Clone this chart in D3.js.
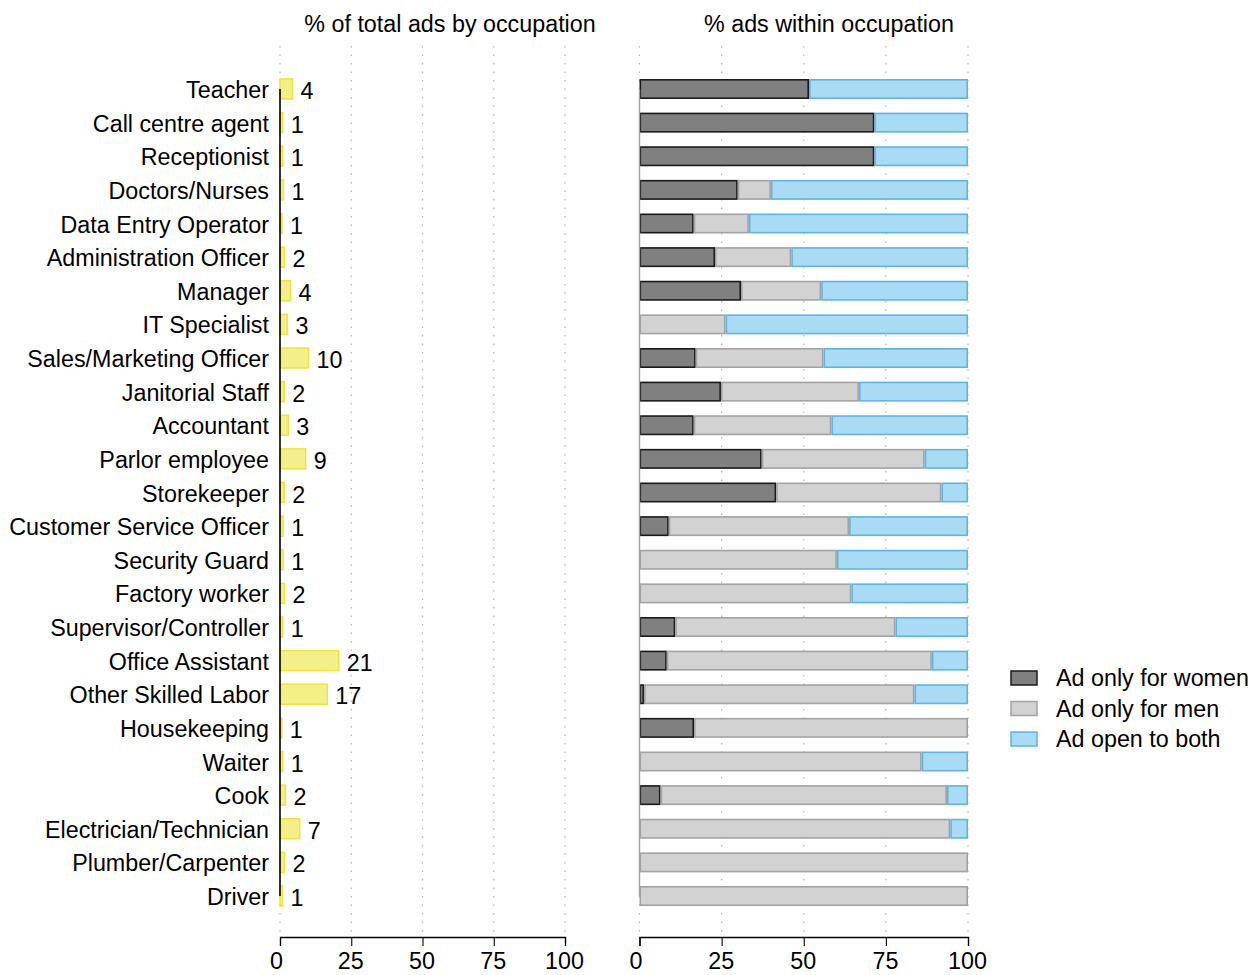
<!DOCTYPE html>
<html>
<head>
<meta charset="utf-8">
<script src="https://cdn.jsdelivr.net/npm/d3@7"></script>
<style>
  html, body { margin: 0; padding: 0; background: #fff; }
  svg text { font-family: "Liberation Sans", Arial, Helvetica, sans-serif; fill: #000; }
</style>
</head>
<body>
<div id="chart"></div>
<script>
const occupations = ["Teacher", "Call centre agent", "Receptionist", "Doctors/Nurses", "Data Entry Operator",
  "Administration Officer", "Manager", "IT Specialist", "Sales/Marketing Officer", "Janitorial Staff",
  "Accountant", "Parlor employee", "Storekeeper", "Customer Service Officer", "Security Guard",
  "Factory worker", "Supervisor/Controller", "Office Assistant", "Other Skilled Labor", "Housekeeping",
  "Waiter", "Cook", "Electrician/Technician", "Plumber/Carpenter", "Driver"];

// % of total ads
const shareTotal = [4.4, 1.0, 1.0, 1.2, 0.7, 1.6, 3.7, 2.6, 10.0, 1.5, 2.9, 9.0, 1.5, 1.1, 1.1,
  1.6, 1.0, 20.6, 16.6, 0.6, 1.0, 1.9, 6.9, 1.6, 0.9];

// % within occupation
const onlyWomen = [51.6, 71.5, 71.5, 29.9, 16.5, 23.0, 30.9, 0, 17.1, 24.8, 16.5, 37.2, 41.6, 8.9, 0,
  0, 10.9, 8.3, 1.4, 16.6, 0, 6.4, 0, 0, 0];
const onlyMen = [0, 0, 0, 10.1, 16.8, 23.2, 24.4, 26.2, 38.9, 42.0, 41.9, 49.6, 50.3, 54.9, 60.1,
  64.5, 67.0, 80.7, 82.3, 83.4, 85.9, 87.2, 94.6, 100, 100];
const openBoth = onlyWomen.map((w, i) => Math.max(0, 100 - w - onlyMen[i]));

const ticks = [0, 25, 50, 75, 100];
const seriesNames = ["Ad only for women", "Ad only for men", "Ad open to both"];

const COL = {
  women: { fill: "#808080", stroke: "#1a1a1a" },
  men: { fill: "#d1d2d1", stroke: "#a3a3a3" },
  both: { fill: "#a9dbf4", stroke: "#5cb5e6" },
  share: { fill: "#f4ef88", stroke: "#efe437" },
  grid: "#b5b5b5"
};

const FS = "23.3px";
const W = 1253, H = 975;
const svg = d3.select("#chart").append("svg").attr("width", W).attr("height", H);

const y = d3.scalePoint().domain(occupations).range([89, 896]);
const barH = 20;
const gridTop = 46, axisY = 937;

const xL = d3.scaleLinear().domain([0, 100]).range([280, 565]);
const xR = d3.scaleLinear().domain([0, 100]).range([639.5, 968]);

function panel(x) {
  const g = svg.append("g");
  // dotted gridlines
  g.selectAll(".grid").data(ticks.slice(1)).join("line").attr("class", "grid")
    .attr("x1", (d) => x(d)).attr("x2", (d) => x(d)).attr("y1", gridTop).attr("y2", axisY)
    .attr("stroke", COL.grid).attr("stroke-width", 1.2).attr("stroke-dasharray", "1.5 7");
  // zero line dotted above and below the spine
  [[gridTop, y.range()[0]], [y.range()[1], axisY]].forEach(([a, b]) => {
    g.append("line").attr("x1", x(0)).attr("x2", x(0)).attr("y1", a).attr("y2", b)
      .attr("stroke", COL.grid).attr("stroke-width", 1.2).attr("stroke-dasharray", "1.5 7");
  });
  // x axis
  const ax = g.append("g").attr("transform", `translate(0,${axisY})`)
    .call(d3.axisBottom(x).tickValues(ticks).tickSize(9).tickPadding(6).tickFormat(d3.format("d")));
  ax.select(".domain").attr("stroke", "#000").attr("stroke-width", 1.3);
  ax.selectAll(".tick line").attr("stroke", "#000").attr("stroke-width", 1.1);
  ax.selectAll("text").style("font-size", FS).style("font-family", "Liberation Sans, Arial, sans-serif")
    .attr("fill", "#000").attr("dx", (d) => d === 0 ? -4 : -1);
  return g;
}

// ---- left panel ----
const gL = panel(xL);
gL.selectAll(".share").data(occupations).join("rect").attr("class", "share")
  .attr("x", xL(0)).attr("y", (d) => y(d) - barH / 2)
  .attr("width", (d, i) => xL(shareTotal[i]) - xL(0)).attr("height", barH)
  .attr("fill", COL.share.fill).attr("stroke", COL.share.stroke).attr("stroke-width", 1.5);
gL.append("line").attr("x1", xL(0)).attr("x2", xL(0)).attr("y1", y.range()[0]).attr("y2", y.range()[1])
  .attr("stroke", "#000").attr("stroke-width", 1.6);
gL.selectAll(".val").data(occupations).join("text").attr("class", "val")
  .attr("x", (d, i) => xL(shareTotal[i]) + 8).attr("y", (d) => y(d) + 10)
  .style("font-size", FS).text((d, i) => d3.format(".0f")(shareTotal[i]));
gL.selectAll(".cat").data(occupations).join("text").attr("class", "cat")
  .attr("x", 269).attr("y", (d) => y(d) + 9).attr("text-anchor", "end")
  .style("font-size", FS).text((d) => d);

// ---- right panel ----
const gR = panel(xR);
const stack = occupations.map((o, i) => {
  const segs = [
    { key: "women", v: onlyWomen[i] },
    { key: "men", v: onlyMen[i] },
    { key: "both", v: openBoth[i] }
  ];
  let acc = 0;
  segs.forEach((s) => { s.x0 = acc; acc += s.v; s.x1 = acc; s.occ = o; });
  return segs.filter((s) => s.v > 0.05);
}).flat();
gR.selectAll(".seg").data(stack).join("rect").attr("class", "seg")
  .attr("x", (d) => xR(d.x0) + 0.8).attr("y", (d) => y(d.occ) - barH / 2 + 0.8)
  .attr("width", (d) => Math.max(0.5, xR(d.x1) - xR(d.x0) - 1.6)).attr("height", barH - 1.6)
  .attr("fill", (d) => COL[d.key].fill).attr("stroke", (d) => COL[d.key].stroke).attr("stroke-width", 1.6);
gR.append("line").attr("x1", xR(0)).attr("x2", xR(0)).attr("y1", y.range()[0]).attr("y2", y.range()[1])
  .attr("stroke", "#a0a0a0").attr("stroke-width", 1.4);

// ---- titles ----
svg.append("text").attr("x", 450).attr("y", 32).attr("text-anchor", "middle")
  .style("font-size", FS).text("% of total ads by occupation");
svg.append("text").attr("x", 829).attr("y", 32).attr("text-anchor", "middle")
  .style("font-size", FS).text("% ads within occupation");

// ---- legend ----
const lg = svg.append("g").attr("transform", "translate(1011,671)");
const keys = ["women", "men", "both"];
lg.selectAll("rect").data(keys).join("rect")
  .attr("x", 0).attr("y", (d, i) => i * 30.5).attr("width", 26).attr("height", 14)
  .attr("fill", (d) => COL[d].fill).attr("stroke", (d) => COL[d].stroke).attr("stroke-width", 1.5);
lg.selectAll("text").data(seriesNames).join("text")
  .attr("x", 45).attr("y", (d, i) => i * 30.5 + 15)
  .style("font-size", FS).text((d) => d);
</script>
</body>
</html>
